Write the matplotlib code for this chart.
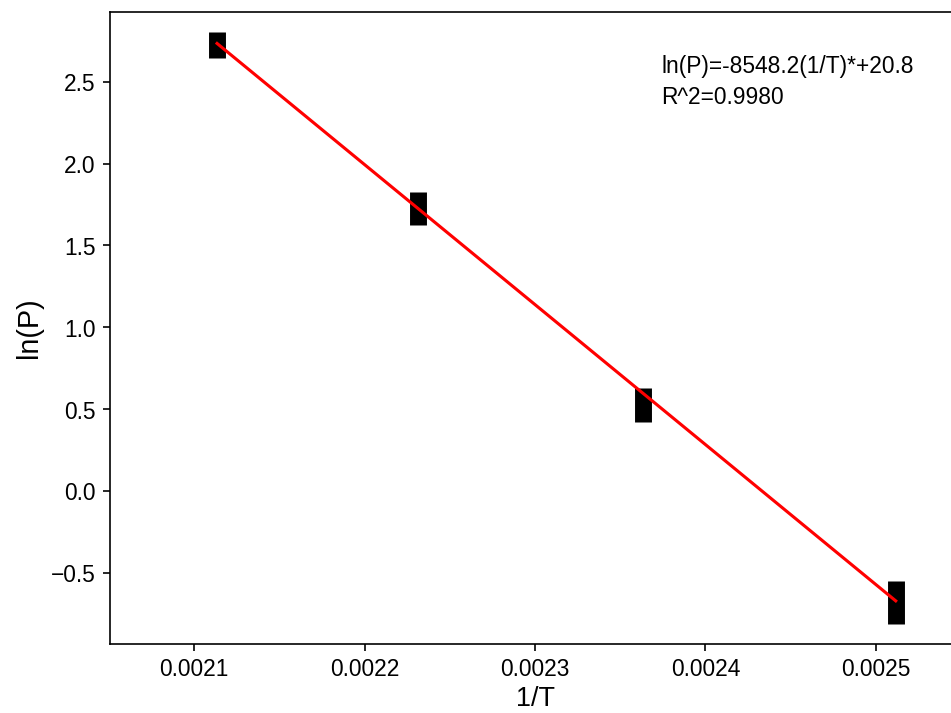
import matplotlib.pyplot as plt
import numpy as np

plt.rcParams['font.family'] = ['Liberation Sans', 'DejaVu Sans']

# 1/T for T = 200, 175, 150, 125 C
inv_T = np.array([0.0021135, 0.0022314, 0.0023632, 0.0025116])
lnP = np.array([2.724, 1.724, 0.527, -0.679])
lnP_err = np.array([0.079, 0.101, 0.105, 0.132])

slope = -8548.2
intercept = 20.8
r2 = 0.9980

fig = plt.figure(figsize=(6.4, 4.8), dpi=148.6)
ax = fig.add_axes([110/951, 69.3/713, 0.895, 631.7/713])

ax.errorbar(inv_T, lnP, yerr=lnP_err, fmt='none', ecolor='k', elinewidth=8.2)
ax.plot(inv_T, slope*inv_T + intercept, 'r', lw=1.5)

ax.text(0.002374, 2.665, 'ln(P)=%.1f(1/T)*+%.1f\nR^2=%.4f' % (slope, intercept, r2),
        fontsize=11, va='top', ha='left', linespacing=1.45)

ax.set_xlim(0.0020507, 0.0025500)
ax.set_ylim(-0.931, 2.927)
ax.set_xticks([0.0021, 0.0022, 0.0023, 0.0024, 0.0025])
ax.tick_params(labelsize=11)
ax.set_xlabel('1/T', fontsize=13, labelpad=2)
ax.set_ylabel('ln(P)', fontsize=14)

fig.savefig('out.png', dpi=148.6)
